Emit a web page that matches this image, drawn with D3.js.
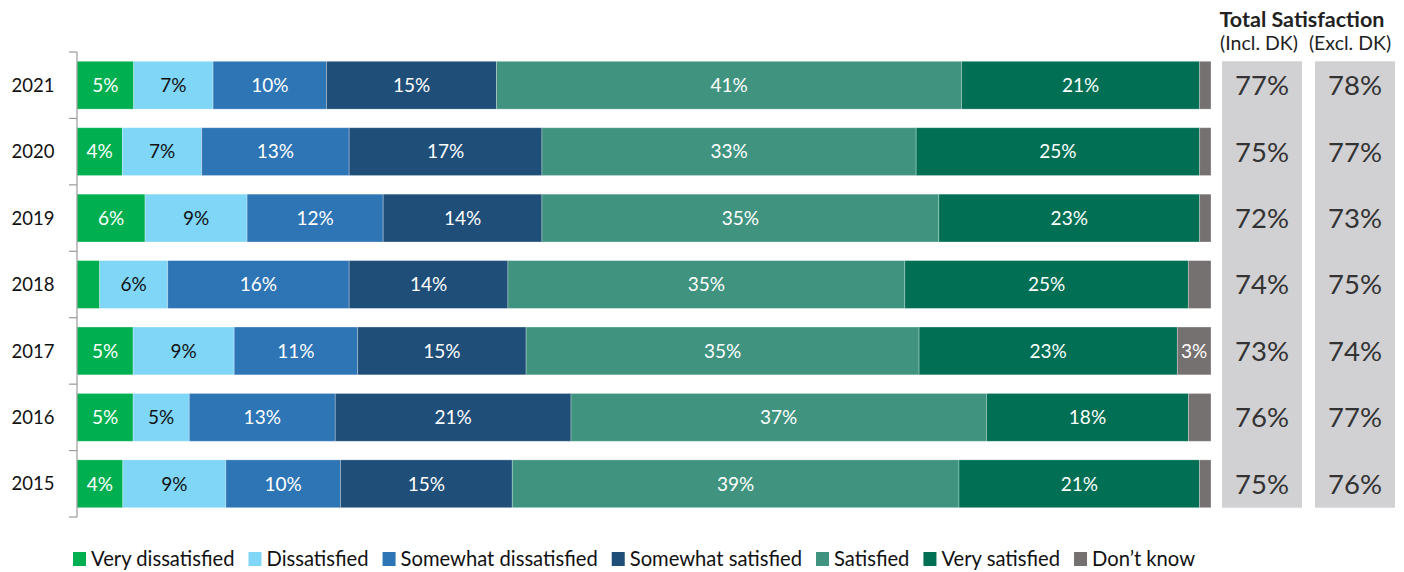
<!DOCTYPE html>
<html>
<head>
<meta charset="utf-8">
<script src="https://cdn.jsdelivr.net/npm/d3@7"></script>
<style>
  html, body { margin: 0; padding: 0; background: #fff; }
  svg { display: block; font-family: Lato, "Noto Sans", sans-serif; }
</style>
</head>
<body>
<svg id="chart" width="1404" height="572"></svg>
<script>
// Survey years, top to bottom
const years = ["2021", "2020", "2019", "2018", "2017", "2016", "2015"];

// Response categories, left to right
const categories = ["Very dissatisfied", "Dissatisfied", "Somewhat dissatisfied",
  "Somewhat satisfied", "Satisfied", "Very satisfied", "Don\u2019t know"];

// Share of respondents (%) per category, one array per category, in year order
const veryDissatisfied     = [5, 4, 6, 2, 5, 5, 4];
const dissatisfied         = [7, 7, 9, 6, 9, 5, 9];
const somewhatDissatisfied = [10, 13, 12, 16, 11, 13, 10];
const somewhatSatisfied    = [15, 17, 14, 14, 15, 21, 15];
const satisfied            = [41, 33, 35, 35, 35, 37, 39];
const verySatisfied        = [21, 25, 23, 25, 23, 18, 21];
const dontKnow             = [1, 1, 1, 2, 3, 2, 1];

// Total satisfaction (%) including and excluding "don't know"
const totalInclDK = [77, 75, 72, 74, 73, 76, 75];
const totalExclDK = [78, 77, 73, 75, 74, 77, 76];

// Values below this are drawn without a label
const labelMin = 3;

const series = [veryDissatisfied, dissatisfied, somewhatDissatisfied,
  somewhatSatisfied, satisfied, verySatisfied, dontKnow];
const colors = ["#00b050", "#7fd6f7", "#2e75b6", "#1f4e79", "#40947f", "#006f54", "#767171"];
const labelColors = ["#fff", "#111", "#fff", "#fff", "#fff", "#fff", "#fff"];

const svg = d3.select("#chart");
const plotLeft = 77, plotRight = 1211, plotTop = 52, plotBottom = 517;

const y = d3.scaleBand().domain(years).range([plotTop, plotBottom]).paddingInner(0.28).paddingOuter(0.14);

// Build row records and stack them
const rows = years.map((yr, i) => {
  const r = { year: yr };
  categories.forEach((c, j) => { r[c] = series[j][i]; });
  r.total = d3.sum(series, s => s[i]);
  return r;
});
const stacked = d3.stack().keys(categories)(rows);

// Each bar spans the full width, scaled by its own row total
const xFor = row => d3.scaleLinear().domain([0, row.total]).range([plotLeft, plotRight]);

const layers = svg.append("g").selectAll("g").data(stacked).join("g")
  .attr("fill", (d, i) => colors[i]);

layers.selectAll("rect").data(d => d).join("rect")
  .attr("x", d => xFor(d.data)(d[0]))
  .attr("y", d => y(d.data.year))
  .attr("width", d => xFor(d.data)(d[1]) - xFor(d.data)(d[0]))
  .attr("height", y.bandwidth())
  .attr("stroke", "#ffffff")
  .attr("stroke-opacity", 0.35)
  .attr("stroke-width", 0.8);

layers.each(function(layer, i) {
  d3.select(this).selectAll("text").data(layer.filter(d => d[1] - d[0] >= labelMin)).join("text")
    .attr("x", d => (xFor(d.data)(d[0]) + xFor(d.data)(d[1])) / 2)
    .attr("y", d => y(d.data.year) + y.bandwidth() / 2)
    .attr("dy", "0.36em")
    .attr("text-anchor", "middle")
    .attr("font-size", 19)
    .attr("fill", labelColors[i])
    .text(d => (d[1] - d[0]) + "%");
});

// Category axis with ticks at the band boundaries
const axisG = svg.append("g");
axisG.append("line").attr("x1", plotLeft).attr("x2", plotLeft).attr("y1", plotTop).attr("y2", plotBottom)
  .attr("stroke", "#9a9a9a").attr("stroke-width", 1.2);
const boundaries = years.map(yr => y(yr) - y.step() * y.paddingInner() / 2);
boundaries[0] = plotTop;
boundaries.push(plotBottom);
axisG.selectAll("line.tick").data(boundaries).join("line").attr("class", "tick")
  .attr("x1", plotLeft - 8).attr("x2", plotLeft).attr("y1", d => d).attr("y2", d => d)
  .attr("stroke", "#9a9a9a").attr("stroke-width", 1.2);
axisG.selectAll("text").data(years).join("text")
  .attr("x", 33).attr("y", d => y(d) + y.bandwidth() / 2).attr("dy", "0.36em")
  .attr("text-anchor", "middle").attr("font-size", 18.5).attr("fill", "#111")
  .text(d => d);

// Total satisfaction panels
const panelY0 = y(years[0]), panelY1 = y(years[years.length - 1]) + y.bandwidth();
const panels = [
  { cx: 1262, hx: 1259, label: "(Incl. DK)", values: totalInclDK },
  { cx: 1355, hx: 1350, label: "(Excl. DK)", values: totalExclDK }
];
const panelW = 80;
panels.forEach(p => {
  svg.append("rect").attr("x", p.cx - panelW / 2).attr("y", panelY0)
    .attr("width", panelW).attr("height", panelY1 - panelY0).attr("fill", "#d1d1d3");
  svg.append("g").selectAll("text").data(p.values).join("text")
    .attr("x", p.cx).attr("y", (d, i) => y(years[i]) + y.bandwidth() / 2).attr("dy", "0.36em")
    .attr("text-anchor", "middle").attr("font-size", 27.5).attr("fill", "#333")
    .text(d => d + "%");
  svg.append("text").attr("x", p.hx).attr("y", 50).attr("text-anchor", "middle")
    .attr("font-size", 19.5).attr("fill", "#222").text(p.label);
});
svg.append("text").attr("x", 1302).attr("y", 27).attr("text-anchor", "middle")
  .attr("font-size", 21.5).attr("font-weight", "bold").attr("fill", "#222")
  .text("Total Satisfaction");

// Legend along the bottom
const legend = svg.append("g").attr("transform", "translate(73,559)");
let lx = 0;
categories.forEach((c, i) => {
  const g = legend.append("g").attr("transform", `translate(${lx},0)`);
  g.append("rect").attr("x", 0).attr("y", -7).attr("width", 13).attr("height", 14).attr("fill", colors[i]);
  const t = g.append("text").attr("x", 18).attr("y", 0).attr("dy", "0.36em")
    .attr("font-size", 20.2).attr("fill", "#111").text(c);
  lx += 18 + t.node().getComputedTextLength() + 14;
});
</script>
</body>
</html>
